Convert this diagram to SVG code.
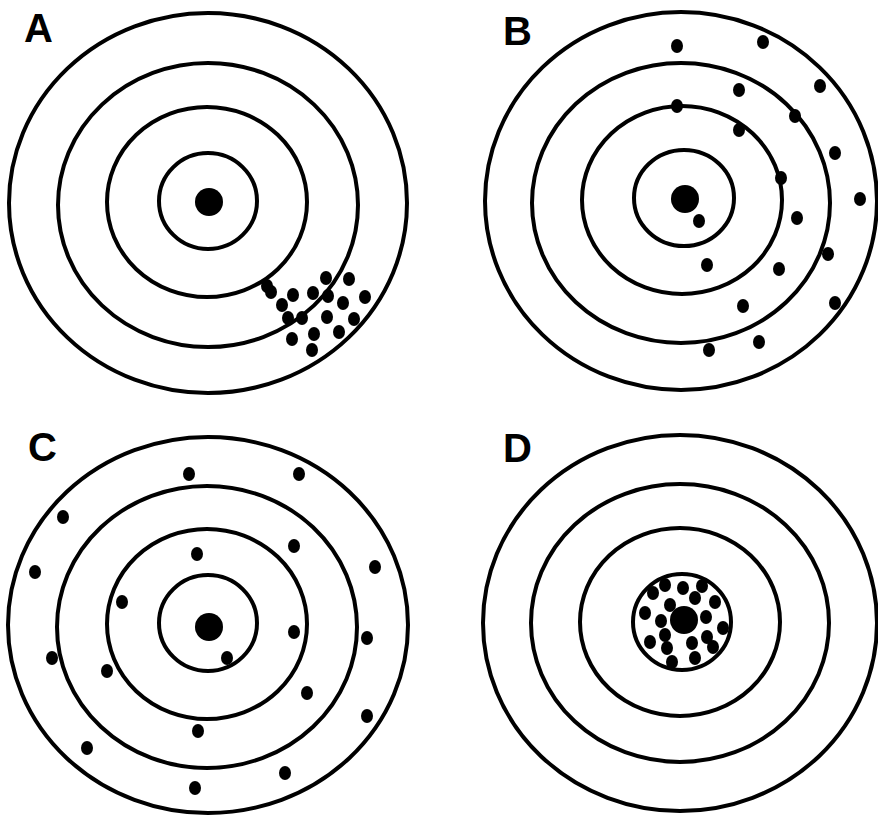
<svg xmlns="http://www.w3.org/2000/svg" width="878" height="815" viewBox="0 0 878 815">
<style>
.ring{fill:none;stroke:#000;stroke-width:4}
.dot{fill:#000}
.lbl{font-family:"Liberation Sans",Arial,sans-serif;font-weight:bold;font-size:40px;fill:#000}
</style>
<rect width="878" height="815" fill="#fff"/>
<g id="targetA">
<ellipse class="ring" cx="208" cy="203" rx="199" ry="190"/>
<ellipse class="ring" cx="208" cy="205" rx="150" ry="142"/>
<ellipse class="ring" cx="207" cy="202" rx="100" ry="95"/>
<ellipse class="ring" cx="208" cy="201" rx="49" ry="48"/>
<circle class="dot" cx="209" cy="202" r="14"/>
<ellipse class="dot" cx="267" cy="286" rx="6" ry="7"/>
<ellipse class="dot" cx="271" cy="292" rx="6" ry="7"/>
<ellipse class="dot" cx="293" cy="295" rx="6" ry="7"/>
<ellipse class="dot" cx="282" cy="305" rx="6" ry="7"/>
<ellipse class="dot" cx="288" cy="318" rx="6" ry="7"/>
<ellipse class="dot" cx="302" cy="318" rx="6" ry="7"/>
<ellipse class="dot" cx="313" cy="293" rx="6" ry="7"/>
<ellipse class="dot" cx="326" cy="278" rx="6" ry="7"/>
<ellipse class="dot" cx="328" cy="296" rx="6" ry="7"/>
<ellipse class="dot" cx="349" cy="279" rx="6" ry="7"/>
<ellipse class="dot" cx="343" cy="303" rx="6" ry="7"/>
<ellipse class="dot" cx="365" cy="297" rx="6" ry="7"/>
<ellipse class="dot" cx="327" cy="317" rx="6" ry="7"/>
<ellipse class="dot" cx="354" cy="319" rx="6" ry="7"/>
<ellipse class="dot" cx="339" cy="332" rx="6" ry="7"/>
<ellipse class="dot" cx="314" cy="334" rx="6" ry="7"/>
<ellipse class="dot" cx="292" cy="339" rx="6" ry="7"/>
<ellipse class="dot" cx="312" cy="350" rx="6" ry="7"/>
<text class="lbl" x="24" y="42">A</text>
</g>
<g id="targetB">
<ellipse class="ring" cx="681" cy="201" rx="196" ry="189"/>
<ellipse class="ring" cx="681" cy="203" rx="149" ry="140"/>
<ellipse class="ring" cx="682" cy="200" rx="100" ry="94"/>
<ellipse class="ring" cx="684" cy="198" rx="50" ry="48"/>
<circle class="dot" cx="685" cy="199" r="14"/>
<ellipse class="dot" cx="677" cy="46" rx="6" ry="7"/>
<ellipse class="dot" cx="763" cy="42" rx="6" ry="7"/>
<ellipse class="dot" cx="820" cy="86" rx="6" ry="7"/>
<ellipse class="dot" cx="739" cy="90" rx="6" ry="7"/>
<ellipse class="dot" cx="677" cy="106" rx="6" ry="7"/>
<ellipse class="dot" cx="795" cy="116" rx="6" ry="7"/>
<ellipse class="dot" cx="739" cy="130" rx="6" ry="7"/>
<ellipse class="dot" cx="835" cy="153" rx="6" ry="7"/>
<ellipse class="dot" cx="781" cy="178" rx="6" ry="7"/>
<ellipse class="dot" cx="860" cy="199" rx="6" ry="7"/>
<ellipse class="dot" cx="699" cy="221" rx="6" ry="7"/>
<ellipse class="dot" cx="797" cy="218" rx="6" ry="7"/>
<ellipse class="dot" cx="828" cy="254" rx="6" ry="7"/>
<ellipse class="dot" cx="707" cy="265" rx="6" ry="7"/>
<ellipse class="dot" cx="779" cy="269" rx="6" ry="7"/>
<ellipse class="dot" cx="835" cy="303" rx="6" ry="7"/>
<ellipse class="dot" cx="743" cy="306" rx="6" ry="7"/>
<ellipse class="dot" cx="759" cy="342" rx="6" ry="7"/>
<ellipse class="dot" cx="709" cy="350" rx="6" ry="7"/>
<text class="lbl" x="503" y="45">B</text>
</g>
<g id="targetC">
<ellipse class="ring" cx="208" cy="625" rx="200" ry="188"/>
<ellipse class="ring" cx="207" cy="627" rx="150" ry="141"/>
<ellipse class="ring" cx="207" cy="624" rx="100" ry="95"/>
<ellipse class="ring" cx="208" cy="623" rx="49" ry="48"/>
<circle class="dot" cx="209" cy="627" r="14"/>
<ellipse class="dot" cx="189" cy="474" rx="6" ry="7"/>
<ellipse class="dot" cx="299" cy="474" rx="6" ry="7"/>
<ellipse class="dot" cx="63" cy="517" rx="6" ry="7"/>
<ellipse class="dot" cx="35" cy="572" rx="6" ry="7"/>
<ellipse class="dot" cx="375" cy="567" rx="6" ry="7"/>
<ellipse class="dot" cx="197" cy="554" rx="6" ry="7"/>
<ellipse class="dot" cx="294" cy="546" rx="6" ry="7"/>
<ellipse class="dot" cx="122" cy="602" rx="6" ry="7"/>
<ellipse class="dot" cx="294" cy="632" rx="6" ry="7"/>
<ellipse class="dot" cx="367" cy="638" rx="6" ry="7"/>
<ellipse class="dot" cx="227" cy="658" rx="6" ry="7"/>
<ellipse class="dot" cx="52" cy="658" rx="6" ry="7"/>
<ellipse class="dot" cx="107" cy="671" rx="6" ry="7"/>
<ellipse class="dot" cx="307" cy="693" rx="6" ry="7"/>
<ellipse class="dot" cx="367" cy="716" rx="6" ry="7"/>
<ellipse class="dot" cx="198" cy="731" rx="6" ry="7"/>
<ellipse class="dot" cx="87" cy="748" rx="6" ry="7"/>
<ellipse class="dot" cx="285" cy="773" rx="6" ry="7"/>
<ellipse class="dot" cx="195" cy="788" rx="6" ry="7"/>
<text class="lbl" x="28" y="461">C</text>
</g>
<g id="targetD">
<ellipse class="ring" cx="680" cy="623" rx="197" ry="188"/>
<ellipse class="ring" cx="680" cy="623" rx="149" ry="139"/>
<ellipse class="ring" cx="680" cy="622" rx="100" ry="94"/>
<ellipse class="ring" cx="682" cy="622" rx="49" ry="48"/>
<circle class="dot" cx="684" cy="620" r="14"/>
<ellipse class="dot" cx="653" cy="593" rx="6" ry="7"/>
<ellipse class="dot" cx="665" cy="585" rx="6" ry="7"/>
<ellipse class="dot" cx="683" cy="588" rx="6" ry="7"/>
<ellipse class="dot" cx="702" cy="586" rx="6" ry="7"/>
<ellipse class="dot" cx="695" cy="598" rx="6" ry="7"/>
<ellipse class="dot" cx="715" cy="602" rx="6" ry="7"/>
<ellipse class="dot" cx="670" cy="605" rx="6" ry="7"/>
<ellipse class="dot" cx="645" cy="613" rx="6" ry="7"/>
<ellipse class="dot" cx="706" cy="617" rx="6" ry="7"/>
<ellipse class="dot" cx="661" cy="621" rx="6" ry="7"/>
<ellipse class="dot" cx="723" cy="628" rx="6" ry="7"/>
<ellipse class="dot" cx="665" cy="635" rx="6" ry="7"/>
<ellipse class="dot" cx="650" cy="642" rx="6" ry="7"/>
<ellipse class="dot" cx="707" cy="637" rx="6" ry="7"/>
<ellipse class="dot" cx="692" cy="643" rx="6" ry="7"/>
<ellipse class="dot" cx="713" cy="647" rx="6" ry="7"/>
<ellipse class="dot" cx="667" cy="648" rx="6" ry="7"/>
<ellipse class="dot" cx="672" cy="662" rx="6" ry="7"/>
<ellipse class="dot" cx="695" cy="658" rx="6" ry="7"/>
<text class="lbl" x="503" y="462">D</text>
</g>
<g id="connectors"/>
</svg>
